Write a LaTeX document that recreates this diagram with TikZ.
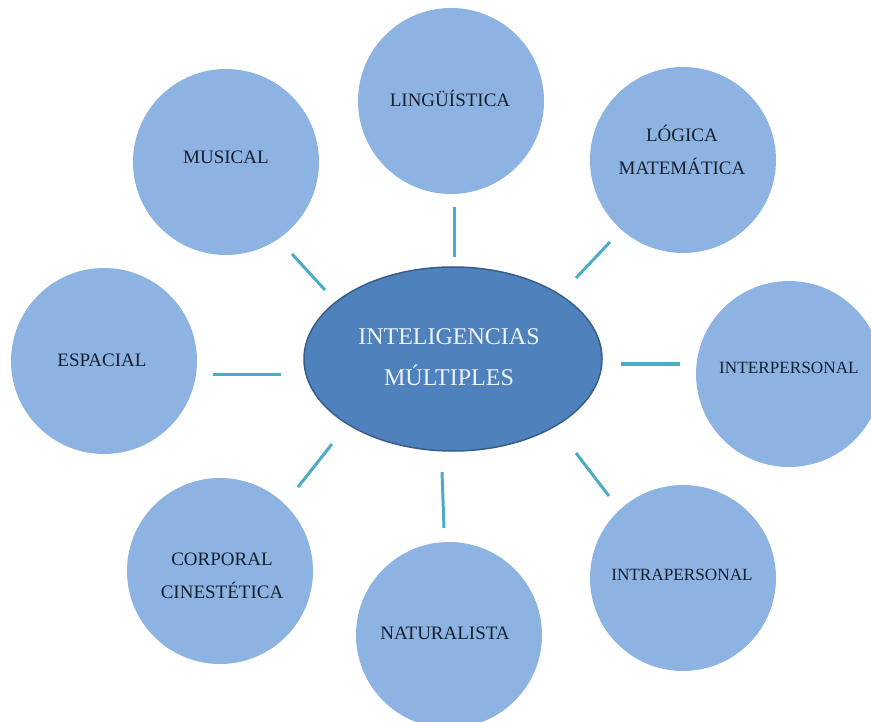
\documentclass[tikz,border=0pt]{standalone}
\usepackage{fontspec}
\setmainfont{Liberation Serif}
\usetikzlibrary{shapes.geometric}
\definecolor{circfill}{HTML}{8DB3E2}
\definecolor{ellfill}{HTML}{4F81BD}
\definecolor{elldraw}{HTML}{385D8A}
\definecolor{conncol}{HTML}{4BACC6}
\definecolor{labcol}{HTML}{17202F}
\definecolor{elltext}{HTML}{EEF3FA}
\tikzset{
  bubble/.style={circle, fill=circfill, draw=none, minimum size=186pt, inner sep=0pt},
  bubtext/.style={text=labcol, font=\fontsize{19}{33}\selectfont, align=center, inner sep=0pt},
  smalltext/.style={bubtext, font=\fontsize{17.2}{33}\selectfont},
  central/.style={ellipse, fill=ellfill, draw=elldraw, line width=1.5pt, minimum width=298pt, minimum height=184pt, inner sep=0pt},
  centtext/.style={text=elltext, font=\fontsize{24}{41}\selectfont, align=center, inner sep=0pt},
  conn/.style={draw=conncol, line width=3pt}
}
\begin{document}
\begin{tikzpicture}[x=1pt,y=-1pt]
\useasboundingbox (0,0) rectangle (871,722);
\clip (0,0) rectangle (871,722);
\fill[white] (0,0) rectangle (871,722);
% central ellipse
\node[central] (E) at (453,359) {};
\node[centtext] (Et) at (449,357) {INTELIGENCIAS\\MÚLTIPLES};
% satellites
\node[bubble] (ling) at (451,101) {};
\node[bubtext] (lingT) at (450,98) {LINGÜÍSTICA};
\node[bubble] (logi) at (683,160) {};
\node[bubtext] (logiT) at (682,150) {LÓGICA\\MATEMÁTICA};
\node[bubble] (inter) at (789,374) {};
\node[smalltext] (interT) at (789,368) {INTERPERSONAL};
\node[bubble] (intra) at (683,578) {};
\node[smalltext] (intraT) at (682,575) {INTRAPERSONAL};
\node[bubble] (natu) at (449,635) {};
\node[bubtext] (natuT) at (445,633) {NATURALISTA};
\node[bubble] (corp) at (220,571) {};
\node[bubtext] (corpT) at (222,576) {CORPORAL\\CINESTÉTICA};
\node[bubble] (espa) at (104,361) {};
\node[bubtext] (espaT) at (102,360) {ESPACIAL};
\node[bubble] (musi) at (226,162) {};
\node[bubtext] (musiT) at (226,157) {MUSICAL};
% connector end points
\coordinate (l1) at (454,207); \coordinate (l2) at (454,257);
\coordinate (g1) at (610,242); \coordinate (g2) at (576,278);
\coordinate (p1) at (680,364); \coordinate (p2) at (621,364);
\coordinate (r1) at (609,496); \coordinate (r2) at (576,453);
\coordinate (n1) at (444,528); \coordinate (n2) at (442,472);
\coordinate (c1) at (298,487); \coordinate (c2) at (332,444);
\coordinate (s1) at (213,374); \coordinate (s2) at (281,374);
\coordinate (m1) at (292,254); \coordinate (m2) at (325,290);
\draw[conn] (l1) -- (l2);
\draw[conn] (g1) -- (g2);
\draw[conn] (p1) -- (p2);
\draw[conn] (r1) -- (r2);
\draw[conn] (n1) -- (n2);
\draw[conn] (c1) -- (c2);
\draw[conn] (s1) -- (s2);
\draw[conn] (m1) -- (m2);
\end{tikzpicture}
\end{document}
